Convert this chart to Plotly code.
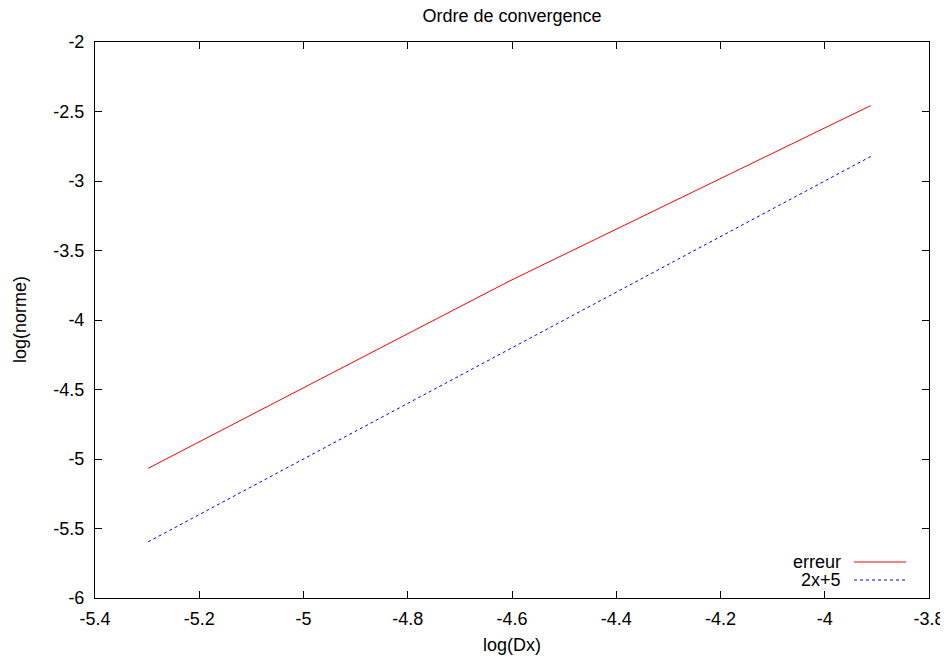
import plotly.graph_objects as go

# Data
log_dx = [-5.298, -4.605, -3.912]
erreur = [-5.067, -3.72, -2.458]
ref_line = [-5.596, -4.21, -2.824]  # 2x+5

x_tickvals = [-5.4, -5.2, -5.0, -4.8, -4.6, -4.4, -4.2, -4.0, -3.8]
x_ticktext = ["-5.4", "-5.2", "-5", "-4.8", "-4.6", "-4.4", "-4.2", "-4", "-3.8"]
y_tickvals = [-6, -5.5, -5, -4.5, -4, -3.5, -3, -2.5, -2]
y_ticktext = ["-6", "-5.5", "-5", "-4.5", "-4", "-3.5", "-3", "-2.5", "-2"]

FONT = "Liberation Sans, Arial, sans-serif"
FS = 18
OFF = 8  # page body margin
W, H = 948 - OFF, 661 - OFF
L, R, T, B = 95 - OFF, 929 - OFF, 42 - OFF, 598 - OFF

fig = go.Figure()
fig.add_trace(go.Scatter(x=log_dx, y=erreur, mode="lines", name="erreur",
                         line=dict(color="#ff0000", width=1), showlegend=False))
fig.add_trace(go.Scatter(x=log_dx, y=ref_line, mode="lines", name="2x+5",
                         line=dict(color="#0000ff", width=1, dash="3px,3px"), showlegend=False))

axis_common = dict(showline=True, linecolor="black", linewidth=1, mirror="ticks",
                   ticks="inside", ticklen=7, tickcolor="black", tickwidth=1,
                   showgrid=False, zeroline=False, automargin=False,
                   tickfont=dict(family=FONT, size=FS, color="black"))

fig.update_layout(
    width=W, height=H,
    margin=dict(l=L, r=W - R, t=T, b=H - B),
    plot_bgcolor="white", paper_bgcolor="white",
    title=dict(text="Ordre de convergence", x=(L + R) / 2 / W, xanchor="center",
               y=1 - (16 - OFF) / H, yanchor="middle", automargin=False,
               font=dict(family=FONT, size=FS, color="black")),
    xaxis=dict(range=[-5.4, -3.8], tickvals=x_tickvals, ticktext=x_ticktext,
               ticklabelstandoff=4, **axis_common),
    yaxis=dict(range=[-6, -2], tickvals=y_tickvals, ticktext=y_ticktext,
               ticklabelstandoff=6, **axis_common),
)

def px_x(p):
    # p: page pixel
    return (p - OFF - L) / (R - L)

def px_y(p):
    return 1 - (p - OFF - T) / (B - T)

# axis titles
fig.add_annotation(xref="paper", yref="paper", x=px_x(512), y=px_y(645),
                   text="log(Dx)", showarrow=False, xanchor="center", yanchor="middle",
                   font=dict(family=FONT, size=FS, color="black"))
fig.add_annotation(xref="paper", yref="paper", x=px_x(20), y=px_y(320),
                   text="log(norme)", showarrow=False, xanchor="center", yanchor="middle",
                   textangle=-90, font=dict(family=FONT, size=FS, color="black"))

# gnuplot-style legend (text right-aligned, sample to the right)
legend_items = [("erreur", "#ff0000", "solid", 562), ("2x+5", "#0000ff", "3px,3px", 580)]
for label, color, dash, ypix in legend_items:
    yp = px_y(ypix)
    fig.add_annotation(xref="paper", yref="paper", x=px_x(843), y=yp,
                       text=label, showarrow=False, xanchor="right", yanchor="middle",
                       font=dict(family=FONT, size=FS, color="black"))
    fig.add_shape(type="line", xref="paper", yref="paper",
                  x0=px_x(854), x1=px_x(906), y0=yp, y1=yp,
                  line=dict(color=color, width=1, dash=dash))

fig.write_html("out.html")
